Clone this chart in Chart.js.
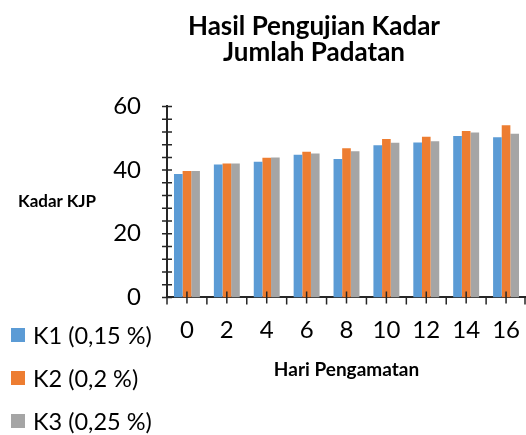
<!DOCTYPE html>
<html lang="id">
<head>
<meta charset="UTF-8">
<title>Hasil Pengujian Kadar Jumlah Padatan</title>
<script src="https://cdn.jsdelivr.net/npm/chart.js@4"></script>
<style>
    body { margin: 0; background: #fff; }
    #wrap { position: relative; width: 526px; height: 435px; font-family: Lato, sans-serif; }
    #chart { position: absolute; left: 0; top: 0; }
    .ytitle { position: absolute; left: 18px; top: 190px; font-weight: bold; font-size: 17px; color: #000; }
    .legend { position: absolute; left: 11px; top: 313px; }
    .legend div { height: 43px; display: flex; align-items: center; font-size: 23.5px; color: #000; }
    .legend span.box { width: 14px; height: 14px; margin-right: 8px; display: inline-block; }
</style>
</head>
<body>
<div id="wrap">
    <canvas id="chart" width="526" height="435"></canvas>
    <div class="ytitle">Kadar KJP</div>
    <div class="legend" id="legend"></div>
</div>
<script>
    // data
    const days = ['0', '2', '4', '6', '8', '10', '12', '14', '16'];
    const k1 = [38.8, 41.8, 42.6, 44.8, 43.5, 47.8, 48.7, 50.7, 50.3];
    const k2 = [39.7, 42.1, 43.9, 45.8, 46.9, 49.8, 50.5, 52.3, 54.1];
    const k3 = [39.7, 42.1, 44.0, 45.2, 45.9, 48.6, 49.1, 51.8, 51.4];
    const seriesNames = ['K1 (0,15 %)', 'K2 (0,2 %)', 'K3 (0,25 %)'];
    const yLabels = [0, 20, 40, 60];

    const colors = ['#5B9BD5', '#ED7D31', '#A5A5A5'];
    const axisColor = '#262626';

    // legend as plain html on the left
    const legendEl = document.getElementById('legend');
    seriesNames.forEach((name, i) => {
        const row = document.createElement('div');
        row.innerHTML = `<span class="box" style="background:${colors[i]}"></span>${name}`;
        legendEl.appendChild(row);
    });

    // little tick marks that cross the axes, like the office chart
    const axisTicks = {
        id: 'axisTicks',
        afterDraw(chart) {
            const ctx = chart.ctx;
            const x = chart.scales.x, y = chart.scales.y;
            const x0 = chart.chartArea.left, yb = chart.chartArea.bottom;
            const half = (x.getPixelForValue(1) - x.getPixelForValue(0)) / 2;
            ctx.save();
            ctx.strokeStyle = axisColor;
            ctx.lineWidth = 1.5;
            ctx.beginPath();
            for (let v = 0; v <= 60; v += 4) {
                const py = y.getPixelForValue(v);
                ctx.moveTo(x0 - 5, py);
                ctx.lineTo(x0 + 5, py);
            }
            for (let i = 0; i < days.length; i++) {
                const c = x.getPixelForValue(i);
                ctx.moveTo(c, yb - 6);
                ctx.lineTo(c, yb + 6);
                ctx.moveTo(c - half, yb);
                ctx.lineTo(c - half, yb + 7);
                if (i === days.length - 1) {
                    ctx.moveTo(c + half - 1, yb);
                    ctx.lineTo(c + half - 1, yb + 7);
                }
            }
            ctx.stroke();
            ctx.restore();
        }
    };

    new Chart(document.getElementById('chart'), {
        type: 'bar',
        data: {
            labels: days,
            datasets: [
                { label: seriesNames[0], data: k1, backgroundColor: colors[0] },
                { label: seriesNames[1], data: k2, backgroundColor: colors[1] },
                { label: seriesNames[2], data: k3, backgroundColor: colors[2] }
            ]
        },
        options: {
            responsive: false,
            animation: false,
            layout: { padding: { left: 95, right: -7, top: 2, bottom: 54 } },
            datasets: { bar: { categoryPercentage: 0.65, barPercentage: 1.0 } },
            plugins: {
                legend: { display: false },
                tooltip: { enabled: false },
                title: {
                    display: true,
                    text: ['Hasil Pengujian Kadar', 'Jumlah Padatan'],
                    color: '#000',
                    font: { family: 'Lato', size: 26, weight: 'bold', lineHeight: 0.98 },
                    padding: { top: 12, bottom: 41.5 }
                }
            },
            scales: {
                x: {
                    grid: { display: false },
                    border: { display: true, color: axisColor, width: 2 },
                    afterFit(scale) { scale.paddingLeft = 0; scale.paddingRight = 0; },
                    ticks: { color: '#000', font: { family: 'Lato', size: 24 }, padding: 10, maxRotation: 0 },
                    title: {
                        display: true,
                        text: 'Hari Pengamatan',
                        color: '#000',
                        font: { family: 'Lato', size: 19, weight: 'bold' },
                        padding: { top: 4, bottom: 0 }
                    }
                },
                y: {
                    min: 0,
                    max: 60,
                    grid: { display: false },
                    border: { display: true, color: axisColor, width: 2 },
                    afterFit(scale) { scale.width = 72; },
                    ticks: {
                        stepSize: 4,
                        autoSkip: false,
                        color: '#000',
                        font: { family: 'Lato', size: 24 },
                        padding: 18,
                        callback: v => (yLabels.includes(v) ? v : '')
                    }
                }
            }
        },
        plugins: [axisTicks]
    });
</script>
</body>
</html>
